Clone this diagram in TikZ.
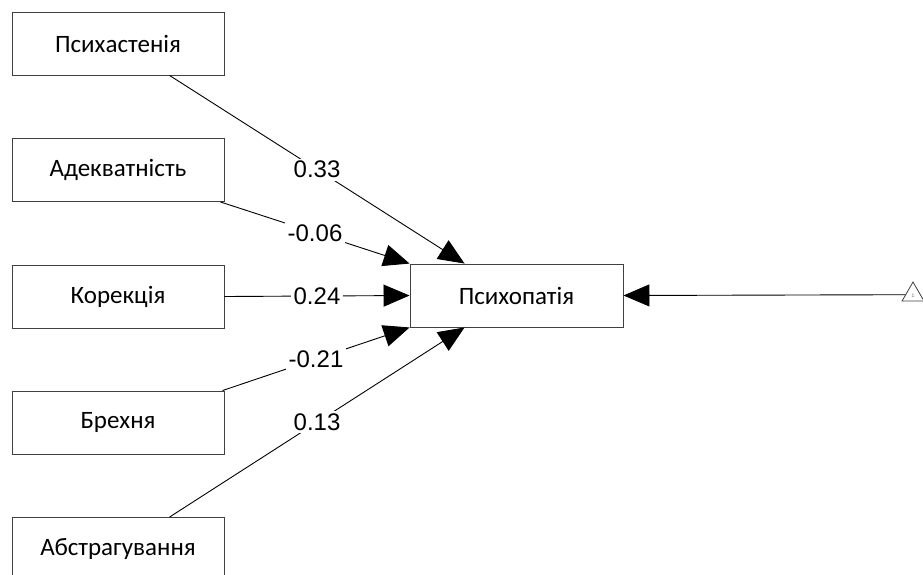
\documentclass[tikz,border=0pt]{standalone}
\usepackage{fontspec}
\setmainfont{Carlito}
\newfontfamily\labelfont{Liberation Sans}
\usetikzlibrary{arrows.meta,shapes.geometric}

\tikzset{
  var/.style={draw=black!75, line width=0.9pt, fill=white, inner sep=0pt,
    minimum width=212pt, minimum height=63pt, font=\fontsize{25}{28}\selectfont},
  path/.style={line width=0.9pt, black,
    -{Triangle[length=26pt,width=22pt]}},
  coef/.style={fill=white, inner sep=2.5pt, text=black,
    font=\labelfont\fontsize{24}{26}\selectfont},
  errnode/.style={draw=black!75, line width=0.8pt, regular polygon,
    regular polygon sides=3, minimum size=25.4pt, inner sep=0pt}
}

\begin{document}
\begin{tikzpicture}[x=1pt, y=-1pt]
  \useasboundingbox (0,0) rectangle (923,574);

  % predictors
  \node[var] (pa) at (118,43.5)  {Психастенія};
  \node[var] (ad) at (118,170)   {Адекватність};
  \node[var] (ko) at (118,296.5) {Корекція};
  \node[var] (br) at (118,422.5) {Брехня};
  \node[var] (ab) at (118,549)   {Абстрагування};

  % outcome
  \node[var, minimum width=213pt] (pp) at (516.5,295.5) {Психопатія};

  % residual term
  \node[errnode] (err) at (913,294.7) {};
  \node[font=\labelfont\fontsize{5}{5}\selectfont, text=black!60, inner sep=0pt]
    (errlbl) at (913,296) {1};

  % regression paths with coefficients
  \draw[path] ([xshift=158pt]pa.south west) -- ([xshift=55pt]pp.north west)
    node[coef, midway] {0.33};
  \draw[path] ([xshift=-4pt]ad.south east) -- (pp.north west)
    node[coef, midway] {-0.06};
  \draw[path] (ko.east) -- (pp.west)
    node[coef, midway] {0.24};
  \draw[path] ([xshift=-2pt]br.north east) -- (pp.south west)
    node[coef, midway] {-0.21};
  \draw[path] ([xshift=158pt]ab.north west) -- ([xshift=55pt]pp.south west)
    node[coef, midway] {0.13};

  % residual path
  \draw[path] (err.west) -- (pp.east);
\end{tikzpicture}
\end{document}
